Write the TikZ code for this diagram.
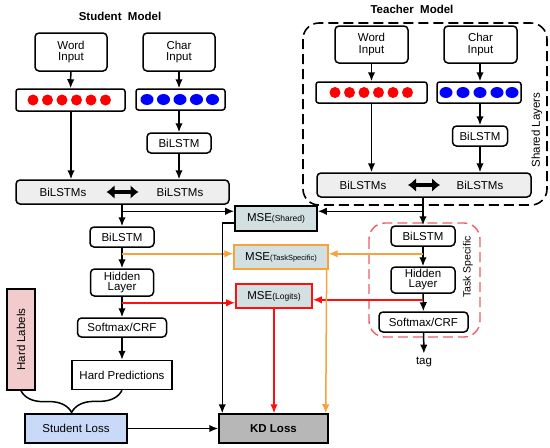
\documentclass[tikz,border=0pt]{standalone}
\usepackage{fontspec}
\setmainfont{Liberation Sans}
\usepackage{xcolor}
\usepackage{tikz}
\usetikzlibrary{arrows.meta,calc,decorations.pathreplacing}
\definecolor{MseFill}{HTML}{D3E0E2}
\definecolor{BarFill}{HTML}{EEEEEE}
\definecolor{LabelPink}{HTML}{F2CCCC}
\definecolor{LossBlue}{HTML}{C9DAF8}
\definecolor{KdGrey}{HTML}{B7B7B7}
\definecolor{TsOrange}{HTML}{F5A33B}
\definecolor{LgRed}{HTML}{FF1010}
\definecolor{TaskRed}{HTML}{E8606A}
\begin{document}
\begin{tikzpicture}[x=1pt,y=-1pt,>={Latex[length=9pt,width=7.5pt]},
  font=\fontsize{11.5}{11.5}\selectfont,
  box/.style={draw,line width=1.5pt,rounded corners=4pt,fill=white,align=center,inner sep=0pt},
  embbox/.style={box,rounded corners=2.5pt},
  msebox/.style={draw,line width=1.8pt,fill=MseFill,inner sep=0pt},
  flat/.style={draw,line width=1.5pt,align=center,inner sep=0pt},
  link/.style={->,line width=1.5pt},
  fat/.style={line width=4.5pt,{Latex[length=8pt,width=14pt]}-{Latex[length=8pt,width=14pt]}},
  title/.style={font=\fontsize{11.5}{12}\selectfont\bfseries}]
  \useasboundingbox (0,0) rectangle (550,448);
  % student model
  \node[title] (stitle) at (120,16) {Student\ \ Model};
  \node[box,minimum width=72,minimum height=38] (swin) at (71,52) {Word\\Input};
  \node[box,minimum width=72,minimum height=38] (schar) at (179,52) {Char\\Input};
  \node[embbox,minimum width=109,minimum height=22] (swemb) at (70.5,100) {};
  \node[embbox,minimum width=89,minimum height=21] (scemb) at (180.5,99.5) {};
  \foreach \x in {33,47.5,62,76.5,91,105.5}
    \fill[red] (\x,100) ellipse (5.5 and 5.5);
  \foreach \x in {147,163.5,180,196.5,212.5}
    \fill[blue] (\x,99.5) ellipse (6.5 and 5.5);
  \node[box,minimum width=64,minimum height=20] (scbilstm) at (179,143) {BiLSTM};
  \node[box,fill=BarFill,minimum width=213,minimum height=24] (sbar) at (122.5,192) {};
  \node (sbarl) at (63,192) {BiLSTMs};
  \node (sbarr) at (180,192) {BiLSTMs};
  \draw[fat] ($(sbar.center)+(-16,0)$) -- ($(sbar.center)+(16,0)$);
  \node[box,minimum width=64,minimum height=20] (sbilstm) at (122,237) {BiLSTM};
  \node[box,minimum width=63,minimum height=27] (shidden) at (122,282.5) {Hidden\\[-1.5pt]Layer};
  \node[box,minimum width=89,minimum height=19] (ssoftmax) at (122,327.5) {Softmax/CRF};
  \node[flat,minimum width=100,minimum height=29] (shardpred) at (122,375) {Hard Predictions};
  \node[flat,fill=LabelPink,minimum width=28,minimum height=101] (hardlabels) at (21,339.5) {};
  \node[rotate=90] (hardlabelst) at (hardlabels.center) {Hard Labels};
  \node[flat,fill=LossBlue,minimum width=102,minimum height=29] (studentloss) at (76,428.5) {Student Loss};
  \node[flat,fill=KdGrey,minimum width=109,minimum height=29,font=\fontsize{11.5}{11.5}\selectfont\bfseries] (kdloss) at (273.5,428.5) {KD Loss};
  % mse boxes
  \node[msebox,minimum width=82,minimum height=25] (mseshared) at (276,218.5) {MSE{\fontsize{8.5}{8}\selectfont(Shared)}};
  \node[msebox,draw=TsOrange,line width=1.3pt,minimum width=94,minimum height=24] (msets) at (281,257) {MSE{\fontsize{7.5}{8}\selectfont(TaskSpecific)}};
  \node[msebox,draw=LgRed,minimum width=76,minimum height=24] (mselogits) at (274,296) {MSE{\fontsize{8.5}{8}\selectfont(Logits)}};
  % teacher model
  \node[title] (ttitle) at (412,9) {Teacher\ \ Model};
  \draw[line width=1.6pt,dash pattern=on 10pt off 5pt,rounded corners=16pt] (303,23) rectangle (547,205);
  \node[rotate=90] (shared) at (537,130) {Shared Layers};
  \node[box,minimum width=73,minimum height=37] (twin) at (371.5,44.5) {Word\\Input};
  \node[box,minimum width=73,minimum height=37] (tchar) at (480.5,44.5) {Char\\Input};
  \node[embbox,minimum width=111,minimum height=21] (twemb) at (371.5,92.5) {};
  \node[embbox,minimum width=84,minimum height=21] (tcemb) at (479,92.5) {};
  \foreach \x in {335,349.5,364,378.5,393,407.5}
    \fill[red] (\x,92.5) ellipse (5.5 and 5.5);
  \foreach \x in {446,463,480,497,512}
    \fill[blue] (\x,92.5) ellipse (6.5 and 5.5);
  \node[box,minimum width=55,minimum height=20] (tcbilstm) at (480,136) {BiLSTM};
  \node[box,fill=BarFill,minimum width=214,minimum height=24] (tbar) at (424,185) {};
  \node (tbarl) at (363,185) {BiLSTMs};
  \node (tbarr) at (480,185) {BiLSTMs};
  \draw[fat] ($(tbar.center)+(-16,0)$) -- ($(tbar.center)+(16,0)$);
  \draw[TaskRed,line width=1.4pt,dash pattern=on 10pt off 5pt,rounded corners=16pt] (369,223) rectangle (480,337);
  \node[rotate=90,font=\fontsize{10.5}{10}\selectfont] (tasksp) at (468,267) {Task Specific};
  \node[box,minimum width=64,minimum height=20] (tbilstm) at (423,236) {BiLSTM};
  \node[box,minimum width=64,minimum height=26] (thidden) at (423,280) {Hidden\\[-1.5pt]Layer};
  \node[box,minimum width=89,minimum height=20] (tsoftmax) at (423.5,322) {Softmax/CRF};
  \node (tag) at (424,362) {tag};
  % branch points
  \coordinate (ssh) at ($(sbilstm.north)+(0,-15)$);
  \coordinate (tsh) at ($(tbilstm.north)+(0,-14)$);
  \coordinate (sts) at ($(sbilstm.south)+(0,6)$);
  \coordinate (tts) at ($(tbilstm.south)+(0,7)$);
  \coordinate (slg) at ($(shidden.south)+(0,6)$);
  \coordinate (tlg) at ($(thidden.south)+(0,6)$);
  % student arrows
  \draw[link] (swin) -- (swemb);
  \draw[link] (schar.south -| scbilstm) -- (scemb.north -| scbilstm);
  \draw[link] (swin.south |- swemb.south) -- (swin.south |- sbar.north);
  \draw[link] (scemb.south -| scbilstm) -- (scbilstm);
  \draw[link] (scbilstm) -- (scbilstm |- sbar.north);
  \draw[link] (sbar.south -| sbilstm) -- (sbilstm);
  \draw[link] (ssh) -- (ssh -| mseshared.west);
  \draw[link] (sbilstm) -- (shidden);
  \draw[link] (shidden) -- (ssoftmax);
  \draw[link] (ssoftmax) -- (shardpred);
  % teacher arrows
  \draw[link] (twin) -- (twemb);
  \draw[link] (tchar.south -| tcbilstm) -- (tcemb.north -| tcbilstm);
  \draw[link] (twin.south |- twemb.south) -- (twin.south |- tbar.north);
  \draw[link] (tcemb.south -| tcbilstm) -- (tcbilstm);
  \draw[link] (tcbilstm) -- (tcbilstm |- tbar.north);
  \draw[link] (tbar.south -| tbilstm) -- (tbilstm);
  \draw[link] (tsh) -- (tsh -| mseshared.east);
  \draw[link] (tbilstm) -- (thidden);
  \draw[link] (thidden) -- (tsoftmax);
  \draw[link] (tsoftmax) -- (tag);
  % mse links
  \draw[link,TsOrange] (sts) -- (sts -| msets.west);
  \draw[link,TsOrange] (tts) -- (tts -| msets.east);
  \draw[link,LgRed] (slg) -- (slg -| mselogits.west);
  \draw[link,LgRed] (tlg) -- (tlg -| mselogits.east);
  \draw[link] ($(mseshared.west)+(0,4.5)$) -| ($(kdloss.north west)+(4,0)$);
  \draw[link,LgRed] (mselogits.south) -- (mselogits.south |- kdloss.north);
  \draw[link,TsOrange] ($(msets.south east)+(-2,0)$) -- ($(kdloss.north east)+(-3,0)$);
  % losses
  \draw[line width=1.5pt,decorate,decoration={brace,amplitude=22pt}] (shardpred.south) -- (hardlabels.south);
  \draw[link] (studentloss) -- (kdloss);
\end{tikzpicture}
\end{document}
